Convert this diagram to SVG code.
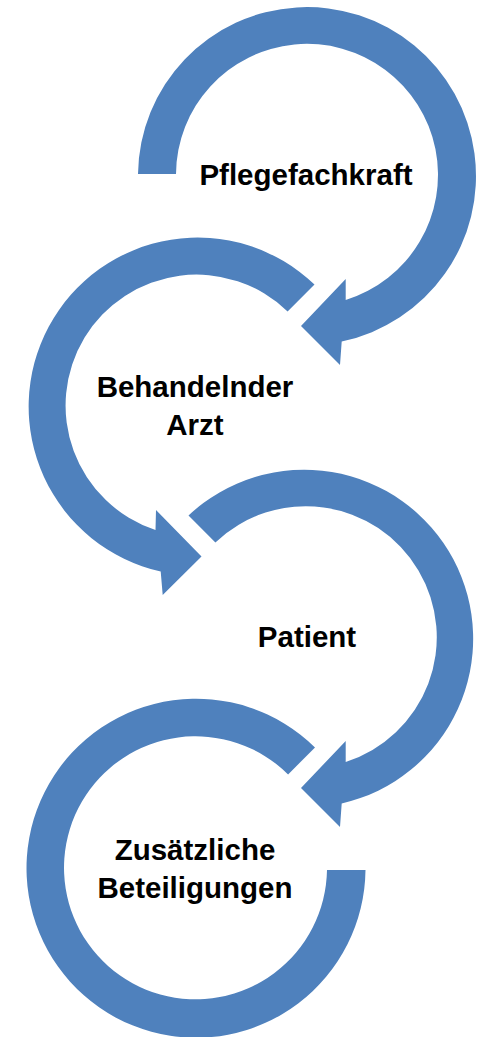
<svg xmlns="http://www.w3.org/2000/svg" width="481" height="1037" viewBox="0 0 481 1037">
<style>
.arc{fill:#4F81BD;stroke:none}
.lbl{font-family:"Liberation Sans",Arial,sans-serif;font-weight:bold;font-size:29.5px;fill:#000;text-anchor:middle}
</style>
<rect width="481" height="1037" fill="#fff"/>
<g id="connectors"></g>
<g id="node1">
<path class="arc" d="M138,174 A169,169 0 1 1 341.7,341.5 L340,365 L301,326 L345.7,279 L345.7,300 A131,131 0 1 0 176,174 Z"/>
<text class="lbl" x="306" y="185">Pflegefachkraft</text>
</g>
<g id="node2">
<path class="arc" d="M314.5,284.5 A169,169 0 1 0 160.7,571.5 L162.7,595 L201.5,556.5 L156,510 L155.5,530 A131,131 0 1 1 287.6,311.4 Z"/>
<text class="lbl" x="195" y="397">Behandelnder</text>
<text class="lbl" x="195" y="435">Arzt</text>
</g>
<g id="node3">
<path class="arc" d="M188.5,515.5 A169,169 0 1 1 341.7,803.5 L340,827 L301,788 L345.7,741 L345.7,762 A131,131 0 1 0 215.4,542.4 Z"/>
<text class="lbl" x="307" y="647">Patient</text>
</g>
<g id="node4">
<path class="arc" d="M315,747.5 A169.5,169.5 0 1 0 365.5,870 L327,870 A131.5,131.5 0 1 1 288.1,774.4 Z"/>
<text class="lbl" x="195" y="860">Zusätzliche</text>
<text class="lbl" x="195" y="898">Beteiligungen</text>
</g>
</svg>
